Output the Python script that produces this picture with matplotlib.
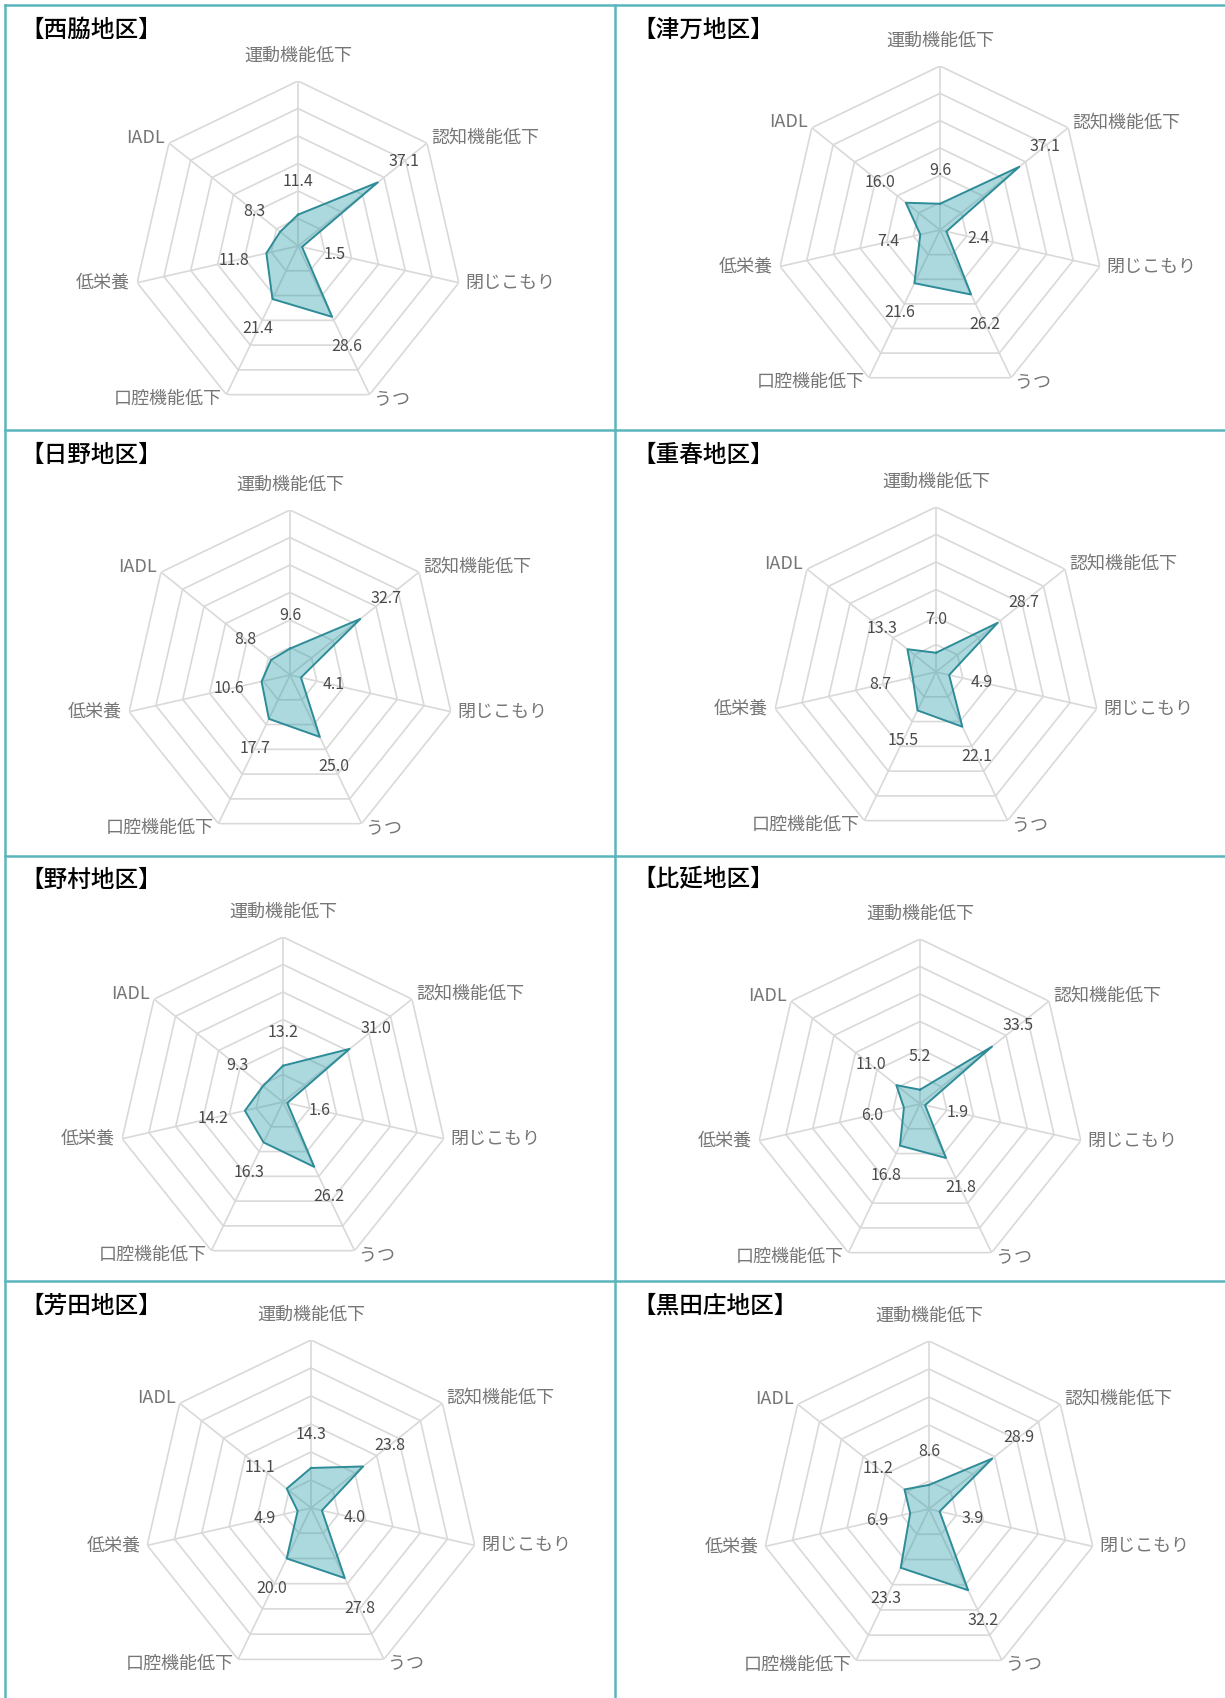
import numpy as np
import matplotlib
matplotlib.use('Agg')
import matplotlib.pyplot as plt
from matplotlib.lines import Line2D

plt.rcParams['font.family'] = ['Noto Sans CJK JP', 'DejaVu Sans']

categories = ['運動機能低下', '認知機能低下', '閉じこもり', 'うつ', '口腔機能低下', '低栄養', 'IADL']

nishiwaki = [11.4, 37.1, 1.5, 28.6, 21.4, 11.8, 8.3]
tsuma = [9.6, 37.1, 2.4, 26.2, 21.6, 7.4, 16.0]
hino = [9.6, 32.7, 4.1, 25.0, 17.7, 10.6, 8.8]
shigeharu = [7.0, 28.7, 4.9, 22.1, 15.5, 8.7, 13.3]
nomura = [13.2, 31.0, 1.6, 26.2, 16.3, 14.2, 9.3]
hie = [5.2, 33.5, 1.9, 21.8, 16.8, 6.0, 11.0]
yoshida = [14.3, 23.8, 4.0, 27.8, 20.0, 4.9, 11.1]
kurodasho = [8.6, 28.9, 3.9, 32.2, 23.3, 6.9, 11.2]

rings = [10, 20, 30, 40, 50, 60]

W, H = 1225, 1698
fig = plt.figure(figsize=(W / 100, H / 100), dpi=100)

# label placement around the outer heptagon: (offset x pt, offset y pt, ha)
label_pos = [(0, 18, 'center'), (3, 4, 'left'), (5, 0, 'left'), (3, -3, 'left'),
             (-3, -3, 'right'), (-5, 0, 'right'), (-3, 4, 'right')]


def radar(values, title, cx, cy, R, tx, ty):
    ax = fig.add_axes([(cx - R) / W, 1 - (cy + R) / H, 2 * R / W, 2 * R / H], projection='polar')
    ax.set_theta_zero_location('N')
    ax.set_theta_direction(-1)
    ax.set_ylim(0, 60)
    ax.axis('off')

    angles = np.arange(len(categories)) * 2 * np.pi / len(categories)
    closed = np.append(angles, angles[0])
    for r in rings:
        ax.plot(closed, [r] * len(closed), color='#d9d9d9', lw=1.2, zorder=1)
    for a in angles:
        ax.plot([a, a], [0, 60], color='#d9d9d9', lw=1.2, zorder=1)

    vals = values + [values[0]]
    ax.fill(closed, vals, color='#31a0aa', alpha=0.4, lw=0, zorder=2)
    ax.plot(closed, vals, color='#2e8b98', lw=1.4, zorder=3)

    for a, v in zip(angles, values):
        ax.text(a, v + 12, f'{v:.1f}', ha='center', va='center', fontsize=11.5, color='#4a4a4a')

    for a, cat, (ox, oy, ha) in zip(angles, categories, label_pos):
        ax.annotate(cat, xy=(a, 60), xytext=(ox, oy), textcoords='offset points',
                    ha=ha, va='center', fontsize=13, color='#767676', annotation_clip=False)

    fig.text(tx / W, 1 - ty / H, '【' + title + '】', fontsize=17, fontweight='medium',
             ha='left', va='center', color='black')


radar(nishiwaki, '西脇地区', 298, 246, 165, 20, 30)
radar(tsuma, '津万地区', 940, 230, 164, 632, 30)
radar(hino, '日野地区', 290, 675, 165, 20, 455)
radar(shigeharu, '重春地区', 936, 672, 165, 632, 455)
radar(nomura, '野村地区', 283, 1102, 165, 20, 880)
radar(hie, '比延地区', 920, 1104, 165, 632, 880)
radar(yoshida, '芳田地区', 311, 1508, 168, 20, 1306)
radar(kurodasho, '黒田庄地区', 929, 1509, 168, 632, 1306)

# cell borders
border = '#5bb5bd'
for x0, y0, x1, y1 in [(5, 5, 1225, 5), (5, 5, 5, 1698), (615, 5, 615, 1698),
                       (5, 430, 1225, 430), (5, 855.5, 1225, 855.5), (5, 1281, 1225, 1281)]:
    fig.add_artist(Line2D([x0 / W, x1 / W], [1 - y0 / H, 1 - y1 / H], color=border, lw=1.8))

fig.savefig('out.png', dpi=100, facecolor='white')
